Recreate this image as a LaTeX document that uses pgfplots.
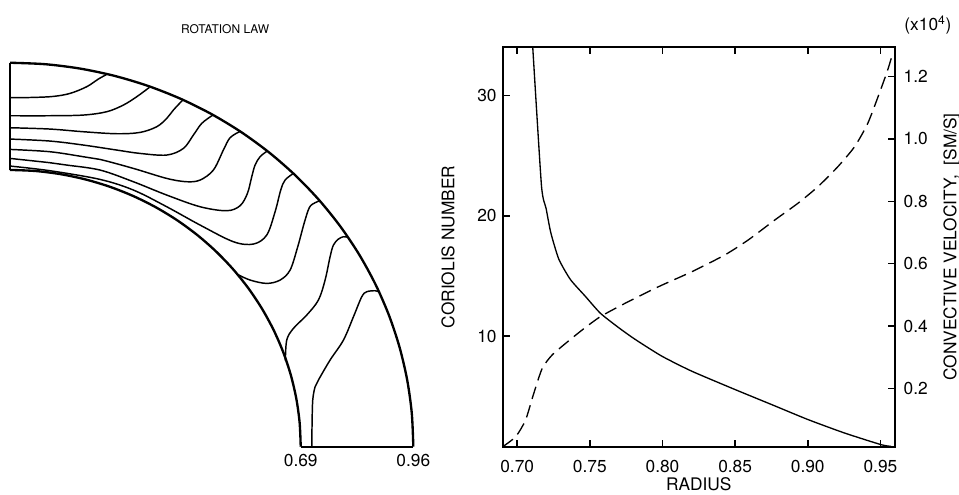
\documentclass[border=0pt]{standalone}
\usepackage{pgfplots}
\pgfplotsset{compat=1.18}
\usepackage{fontspec}
\setmainfont{TeX Gyre Heros}

% 1 px of the reference = 0.75pt
\pgfplotsset{
  labfont/.style={font=\fontsize{13pt}{15pt}\selectfont},
  contour/.style={line width=1.1pt, smooth, tension=0.55},
  frame/.style={line width=1.75pt},
}

\begin{document}
\begin{tikzpicture}
\useasboundingbox (0pt,0pt) rectangle (719.25pt,371.25pt);

% ---- left: rotation law (meridional cut of the shell)
\begin{axis}[at={(7.5pt,36.2pt)}, anchor=south west, scale only axis,
  width=302.5pt, height=288pt, xmin=0, xmax=0.96, ymin=0, ymax=0.96,
  hide axis, clip=false, labfont]
\addplot[frame, smooth, data cs=polar] coordinates {
  (0,0.96) (5,0.96) (10,0.96) (15,0.96) (20,0.96) (25,0.96) (30,0.96)
  (35,0.96) (40,0.96) (45,0.96) (50,0.96) (55,0.96) (60,0.96) (65,0.96)
  (70,0.96) (75,0.96) (80,0.96) (85,0.96) (90,0.96)};
\addplot[frame, smooth, data cs=polar] coordinates {
  (0,0.692) (5,0.692) (10,0.692) (15,0.692) (20,0.692) (25,0.692) (30,0.692)
  (35,0.692) (40,0.692) (45,0.692) (50,0.692) (55,0.692) (60,0.692) (65,0.692)
  (70,0.692) (75,0.692) (80,0.692) (85,0.692) (90,0.692)};
\addplot[frame] coordinates {(0,0.692) (0,0.96)};
\addplot[frame] coordinates {(0.692,0) (0.96,0)};

\addplot[contour] coordinates {(0,0.8725) (0.0556,0.8733) (0.1032,0.8758)
  (0.1429,0.8833) (0.1825,0.9) (0.2103,0.9192) (0.2302,0.9308)};
\addplot[contour] coordinates {(0,0.8275) (0.0952,0.8275) (0.1746,0.8292)
  (0.2302,0.8375) (0.2698,0.8542) (0.3016,0.875) (0.3317,0.8983)};
\addplot[contour] coordinates {(0,0.7975) (0.0952,0.7942) (0.1746,0.7875)
  (0.254,0.7825) (0.3095,0.7858) (0.3492,0.8) (0.373,0.8208) (0.3889,0.8417)
  (0.4111,0.8667)};
\addplot[contour] coordinates {(0,0.7692) (0.0952,0.7642) (0.1746,0.7542)
  (0.254,0.7417) (0.3095,0.7333) (0.373,0.7292) (0.4127,0.7458) (0.4365,0.7792)
  (0.4563,0.8083) (0.4817,0.8283)};
\addplot[contour] coordinates {(0,0.7433) (0.0952,0.7375) (0.1746,0.725)
  (0.2143,0.7183) (0.2937,0.6958) (0.373,0.6708) (0.4206,0.6625) (0.4524,0.6667)
  (0.4841,0.6917) (0.5079,0.7417) (0.5238,0.7725) (0.5476,0.7883)};
\addplot[contour] coordinates {(0,0.7208) (0.0952,0.71) (0.1349,0.7042)
  (0.2143,0.6917) (0.2937,0.6625) (0.373,0.6292) (0.4524,0.6) (0.5159,0.59)
  (0.5476,0.6025) (0.5651,0.6333) (0.5754,0.675) (0.5833,0.7042) (0.5952,0.725)
  (0.6111,0.7383)};
\addplot[contour] coordinates {(0,0.7017) (0.0952,0.69) (0.2143,0.6683)
  (0.2937,0.6417) (0.373,0.6) (0.4524,0.5542) (0.5317,0.5125) (0.5794,0.5067)
  (0.6111,0.5292) (0.631,0.5875) (0.6444,0.6417) (0.6548,0.6667) (0.6746,0.6833)};
\addplot[contour] coordinates {(0.5397,0.4317) (0.5714,0.4167) (0.6111,0.4083)
  (0.6429,0.4167) (0.6667,0.4417) (0.6849,0.5) (0.7,0.5583) (0.7127,0.5983)
  (0.7262,0.61) (0.7357,0.6142)};
\addplot[contour] coordinates {(0.6555,0.215) (0.6587,0.2667) (0.6746,0.2958)
  (0.7063,0.3292) (0.7341,0.3667) (0.75,0.4167) (0.7619,0.475) (0.7698,0.5042)
  (0.7817,0.5192) (0.7937,0.525) (0.803,0.524)};
\addplot[contour] coordinates {(0.7183,0) (0.719,0.0583) (0.7206,0.1167)
  (0.7262,0.15) (0.7341,0.1667) (0.7619,0.2167) (0.7937,0.2667) (0.8175,0.325)
  (0.8373,0.375) (0.8492,0.3875) (0.869,0.39) (0.877,0.3875)};

\node[anchor=north, yshift=-2pt] at (axis cs:0.692,0) {0.69};
\node[anchor=north, yshift=-2pt] at (axis cs:0.96,0) {0.96};
\node[font=\fontsize{9pt}{11pt}\selectfont] at (axis cs:0.512,1.043) {ROTATION LAW};
\end{axis}

% ---- right: Coriolis number and convective velocity
\begin{axis}[at={(377pt,36.2pt)}, anchor=south west, scale only axis,
  width=294.2pt, height=299.6pt, labfont,
  xmin=0.69, xmax=0.96, ymin=0.8, ymax=34,
  xtick={0.70,0.75,0.80,0.85,0.90,0.95}, ytick={10,20,30},
  xtick pos=both, ytick pos=left, tick align=inside,
  major tick length=5.25pt,
  axis line style={line width=1.4pt},
  tick style={line width=1.2pt, black},
  /pgf/number format/assume math mode=true,
  xticklabel style={yshift=-6.5pt, /pgf/number format/.cd, fixed, fixed zerofill, precision=2},
  yticklabel style={xshift=-1pt},
  xlabel={RADIUS}, ylabel={CORIOLIS NUMBER},
  xlabel style={at={(axis description cs:0.5,-0.094)}, anchor=center},
  ylabel style={at={(axis description cs:-0.139,0.5)}, anchor=center},
]
\addplot[line width=1pt, smooth, tension=0.35] coordinates {
  (0.7106,34.2) (0.7167,22.5) (0.7199,20.6) (0.7231,18.6) (0.7286,16.4)
  (0.7366,14.7) (0.7469,13.3) (0.7572,11.9) (0.7698,10.7) (0.7812,9.72)
  (0.7995,8.33) (0.8201,7.08) (0.8498,5.56) (0.8750,4.31) (0.9001,3.06)
  (0.9253,1.94) (0.9505,0.97) (0.9573,0.83)};
\end{axis}

\begin{axis}[at={(377pt,36.2pt)}, anchor=south west, scale only axis,
  width=294.2pt, height=299.6pt, labfont, clip mode=individual,
  xmin=0.69, xmax=0.96, ymin=0.013, ymax=1.294,
  axis y line*=right, axis x line=none,
  ytick={0.2,0.4,0.6,0.8,1.0,1.2}, tick align=inside,
  major tick length=5.25pt,
  axis line style={line width=1.4pt},
  tick style={line width=1.2pt, black},
  /pgf/number format/assume math mode=true,
  yticklabel style={xshift=3pt, /pgf/number format/.cd, fixed, fixed zerofill, precision=1},
  ylabel={CONVECTIVE VELOCITY,\ \ [SM/S]},
  ylabel style={at={(axis description cs:1.145,0.5)}, anchor=center},
]
\addplot[line width=1pt, smooth, tension=0.4, dash pattern=on 9.5pt off 5pt] coordinates {
  (0.6900,0.013) (0.6989,0.045) (0.7057,0.098) (0.7114,0.184) (0.7172,0.264)
  (0.7240,0.307) (0.7332,0.344) (0.7446,0.387) (0.7572,0.430) (0.7743,0.473)
  (0.7972,0.526) (0.8201,0.574) (0.8429,0.628) (0.8590,0.676) (0.8773,0.740)
  (0.8933,0.794) (0.9070,0.847) (0.9207,0.911) (0.9322,0.975) (0.9413,1.050)
  (0.9493,1.147) (0.9550,1.221) (0.9585,1.275)};
\node at (axis description cs:1.084,1.056) {(x10\textsuperscript{4})};
\end{axis}
\end{tikzpicture}
\end{document}
